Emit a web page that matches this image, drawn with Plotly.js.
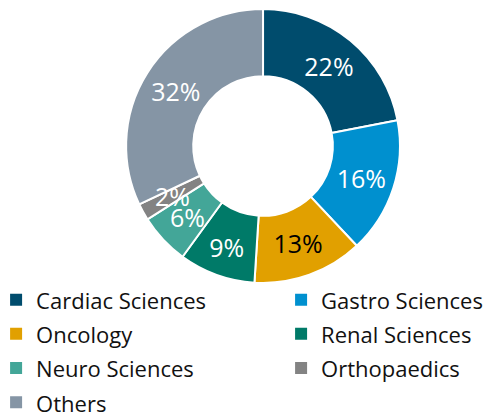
<!DOCTYPE html>
<html><head><meta charset="utf-8">
<script src="https://cdn.plot.ly/plotly-3.0.1.min.js"></script>
<style>html,body{margin:0;padding:0;background:#fff;overflow:hidden}#chart{width:488px;height:413px}</style>
</head><body><div id="chart"></div>
<script>
const categories = ["Cardiac Sciences","Gastro Sciences","Oncology","Renal Sciences","Neuro Sciences","Orthopaedics","Others"];
const shares = [22,16,13,9,6,2,32];
const colors = ["#004c6d","#0090cf","#e1a000","#007a68","#43a698","#838383","#8595a5"];
const textColors = ["#fff","#fff","#000","#fff","#fff","#fff","#fff"];
const legendColumn = ["legend","legend2","legend","legend2","legend","legend2","legend"];
// slices too thin for Plotly's inside-text fitting: their labels are set at mid-ring instead
const midRingLabel = [false,false,false,false,true,true,false];

const FONT = "Open Sans, sans-serif";
const W = 488, H = 413;
const domX = [0.258, 0.820], domY = [0.315, 0.978];
const HOLE = 0.51;

const pie = {
  type: "pie",
  labels: categories,
  values: shares,
  sort: false,
  direction: "clockwise",
  rotation: 0,
  hole: HOLE,
  marker: {colors: colors, line: {color: "#fff", width: 2}},
  textinfo: "percent",
  texttemplate: "%{percent:.0%}",
  textposition: midRingLabel.map(m => m ? "none" : "inside"),
  insidetextorientation: "horizontal",
  insidetextfont: {family: FONT, size: 25, color: textColors},
  domain: {x: domX, y: domY},
  showlegend: false,
  hoverinfo: "label+percent"
};

// mid-ring labels for the thin slices, placed from the slice's mid angle
const total = shares.reduce((a, b) => a + b, 0);
const rPx = Math.min((domX[1] - domX[0]) * W, (domY[1] - domY[0]) * H) / 2;
const cx = (domX[0] + domX[1]) / 2, cy = (domY[0] + domY[1]) / 2;
const rMid = rPx * (1 + HOLE) / 2;
const annotations = [];
let cum = 0;
shares.forEach((v, i) => {
  const a = 2 * Math.PI * (cum + v / 2) / total;
  cum += v;
  if (!midRingLabel[i]) return;
  annotations.push({
    xref: "paper", yref: "paper",
    x: cx + rMid * Math.sin(a) / W,
    y: cy + rMid * Math.cos(a) / H,
    xanchor: "center", yanchor: "middle",
    text: Math.round(100 * v / total) + "%",
    showarrow: false,
    font: {family: FONT, size: 25, color: textColors[i]}
  });
});

const legendEntries = categories.map((c, i) => ({
  type: "scatter",
  mode: "markers",
  x: [null], y: [null],
  name: '<span style="font-size:22px">' + c + '</span>',
  marker: {symbol: "square", size: 12, color: colors[i]},
  legend: legendColumn[i],
  showlegend: true,
  hoverinfo: "skip"
}));

const legendBase = {
  orientation: "v",
  xanchor: "left",
  y: 0.328, yanchor: "top",
  bgcolor: "rgba(0,0,0,0)",
  font: {family: FONT, size: 24, color: "#111"},
  traceorder: "normal"
};

const layout = {
  width: W, height: H,
  margin: {l: 0, r: 0, t: 0, b: 0, autoexpand: false},
  paper_bgcolor: "#fff",
  plot_bgcolor: "rgba(0,0,0,0)",
  showlegend: true,
  xaxis: {visible: false, fixedrange: true},
  yaxis: {visible: false, fixedrange: true},
  uniformtext: {mode: "show", minsize: 25},
  annotations: annotations,
  legend: Object.assign({}, legendBase, {x: -0.008}),
  legend2: Object.assign({}, legendBase, {x: 0.576})
};
Plotly.newPlot("chart", [pie].concat(legendEntries), layout, {displayModeBar: false});
</script></body></html>
